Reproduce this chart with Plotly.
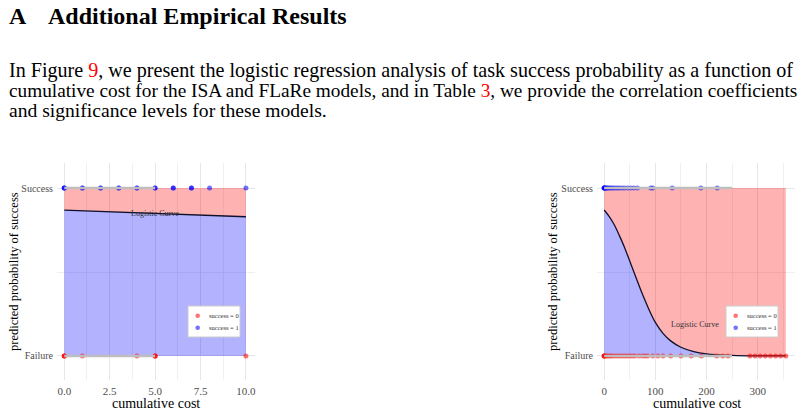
import plotly.graph_objects as go

W, H = 805, 412
def px(x): return x / W
def py(y): return 1 - y / H

SERIF = "Liberation Serif, Times New Roman, serif"

# ---------------- data ----------------
outcome_ticks = [0, 1]
outcome_labels = ["Failure", "Success"]

# ISA panel
isa_curve_cost = [0, 2.5, 5, 7.5, 10]
isa_curve_prob = [0.869, 0.859, 0.849, 0.839, 0.829]
isa_success_cost = [0, 0, 0, 1, 1, 2, 2, 3, 3, 4, 4, 5, 5, 6, 6, 7, 7, 8, 10]
isa_failure_cost = [0, 0, 0, 1, 4, 5, 5, 5, 10]
isa_range = [0, 5]
isa_xticks = [0, 2.5, 5, 7.5, 10]
isa_xticklabels = ["0.0", "2.5", "5.0", "7.5", "10.0"]

# FLaRe panel
flare_curve_cost = [0, 10, 20, 30, 40, 50, 60, 70, 80, 90, 100, 115, 130, 150,
                    175, 200, 250, 300, 355]
flare_curve_prob = [0.869, 0.83, 0.78, 0.715, 0.645, 0.565, 0.485, 0.405, 0.33,
                    0.26, 0.20, 0.135, 0.09, 0.052, 0.026, 0.013, 0.004, 0.001,
                    0.0003]
flare_success_cost = [0, 0, 0, 1, 2, 3, 5, 7, 9, 12, 15, 18, 22, 26, 30, 35, 40,
                      46, 52, 58, 65, 91, 95, 133, 189, 221]
flare_failure_cost = [0, 0, 0, 2, 5, 8, 12, 15, 20, 25, 30, 35, 40, 45, 50, 55,
                      60, 68, 75, 80, 85, 95, 105, 115, 130, 150, 170, 190, 220,
                      232, 242, 285, 295, 305, 315, 325, 335, 345, 355]
flare_range = [0, 250]
flare_xticks = [0, 100, 200, 300]
flare_xticklabels = ["0", "100", "200", "300"]

legend_labels = ["success = 0", "success = 1"]

# ---------------- figure ----------------
RED_FILL = "rgba(255,0,0,0.30)"
BLUE_FILL = "rgba(0,0,255,0.30)"
RED_PT = "rgba(255,0,0,0.55)"
BLUE_PT = "rgba(0,0,255,0.55)"
GREY_LINE = "#BEBEBE"

fig = go.Figure()

def add_panel(xa, ya, cx, cp, succ, fail, rng, shape):
    fig.add_trace(go.Scatter(x=cx, y=cp, mode="lines", line=dict(width=0, shape=shape),
                             fill="tozeroy", fillcolor=BLUE_FILL, xaxis=xa, yaxis=ya,
                             showlegend=False, hoverinfo="skip"))
    fig.add_trace(go.Scatter(x=cx, y=[1] * len(cx), mode="lines", line=dict(width=0),
                             fill="tonexty", fillcolor=RED_FILL, xaxis=xa, yaxis=ya,
                             showlegend=False, hoverinfo="skip"))
    fig.add_trace(go.Scatter(x=cx, y=cp, mode="lines",
                             line=dict(color="#10102a", width=1.3, shape=shape),
                             xaxis=xa, yaxis=ya, showlegend=False))
    fig.add_trace(go.Scatter(x=fail, y=[0] * len(fail), mode="markers",
                             marker=dict(color=RED_PT, size=5), xaxis=xa, yaxis=ya,
                             showlegend=False))
    fig.add_trace(go.Scatter(x=succ, y=[1] * len(succ), mode="markers",
                             marker=dict(color=BLUE_PT, size=5), xaxis=xa, yaxis=ya,
                             showlegend=False))
    for lvl in outcome_ticks:
        fig.add_trace(go.Scatter(x=rng, y=[lvl, lvl], mode="lines",
                                 line=dict(color=GREY_LINE, width=2.5),
                                 xaxis=xa, yaxis=ya, showlegend=False))

add_panel("x", "y", isa_curve_cost, isa_curve_prob, isa_success_cost,
          isa_failure_cost, isa_range, "linear")
add_panel("x2", "y2", flare_curve_cost, flare_curve_prob, flare_success_cost,
          flare_failure_cost, flare_range, "spline")

Y_DOMAIN = [py(380), py(163)]
YRANGE = [-0.143, 1.149]

def xaxis(domain, rng, tv, tt, minor_dtick, anchor):
    return dict(domain=domain, range=rng, anchor=anchor, tickvals=tv, ticktext=tt,
                showgrid=True, gridcolor="#E6E6E6", gridwidth=1, zeroline=False,
                showline=False, ticks="", ticklabelstandoff=3,
                tickfont=dict(family=SERIF, size=11, color="#4D4D4D"),
                minor=dict(dtick=minor_dtick, tick0=0, showgrid=True,
                           gridcolor="#F0F0F0", gridwidth=1))

def yaxis(anchor):
    return dict(domain=Y_DOMAIN, range=YRANGE, anchor=anchor, tickvals=outcome_ticks,
                ticktext=outcome_labels, showgrid=True, gridcolor="#E6E6E6",
                zeroline=False, showline=False, ticks="", ticklabelstandoff=3,
                tickfont=dict(family=SERIF, size=10, color="#4D4D4D"),
                minor=dict(tickvals=[0.5], showgrid=True, gridcolor="#F0F0F0"))

fig.update_layout(
    width=W, height=H, margin=dict(l=0, r=0, t=0, b=0),
    paper_bgcolor="white", plot_bgcolor="white", showlegend=False,
    xaxis=xaxis([px(57), px(255)], [-0.4, 10.5], isa_xticks, isa_xticklabels, 1.25, "y"),
    yaxis=yaxis("x"),
    xaxis2=xaxis([px(597), px(795)], [-14, 373], flare_xticks, flare_xticklabels, 50, "y2"),
    yaxis2=yaxis("x2"),
)

ann = []
# heading
ann.append(dict(text="<b>A</b>", x=px(7), y=py(16), xref="paper", yref="paper",
                xanchor="left", yanchor="middle", showarrow=False,
                font=dict(family=SERIF, size=24, color="black")))
ann.append(dict(text="<b>Additional Empirical Results</b>", x=px(46), y=py(16),
                xref="paper", yref="paper", xanchor="left", yanchor="middle",
                showarrow=False, font=dict(family=SERIF, size=24, color="black")))
para = [
    'In Figure <span style="color:#FF0000">9</span>, we present the logistic regression analysis of task success probability as a function of',
    'cumulative cost for the ISA and FLaRe models, and in Table <span style="color:#FF0000">3</span>, we provide the correlation coefficients',
    'and significance levels for these models.',
]
para_sizes = [20.1, 19.3, 19.6]
for i, line in enumerate(para):
    ann.append(dict(text=line, x=px(7), y=py(70 + 20 * i), xref="paper", yref="paper",
                    xanchor="left", yanchor="middle", showarrow=False,
                    font=dict(family=SERIF, size=para_sizes[i], color="black")))

# axis titles
for cx in (156, 697):
    ann.append(dict(text="cumulative cost", x=px(cx), y=py(403), xref="paper",
                    yref="paper", xanchor="center", yanchor="middle", showarrow=False,
                    font=dict(family=SERIF, size=14, color="black")))
for cx in (14, 553):
    ann.append(dict(text="predicted probability of success", x=px(cx), y=py(272),
                    xref="paper", yref="paper", xanchor="center", yanchor="middle",
                    textangle=-90, showarrow=False,
                    font=dict(family=SERIF, size=12.5, color="black")))

# Logistic curve labels
ann.append(dict(text="Logistic Curve", x=5, y=0.85, xref="x", yref="y", showarrow=False,
                xanchor="center", yanchor="middle",
                font=dict(family=SERIF, size=8, color="#333333")))
ann.append(dict(text="Logistic Curve", x=177, y=0.185, xref="x2", yref="y2",
                showarrow=False, xanchor="center", yanchor="middle",
                font=dict(family=SERIF, size=8, color="#333333")))

# legends (manual boxes)
shapes = []
for (bx0, by0) in ((188, 306), (726, 306)):
    shapes.append(dict(type="rect", xref="paper", yref="paper",
                       x0=px(bx0), x1=px(bx0 + 52), y0=py(by0 + 31), y1=py(by0),
                       fillcolor="white", line=dict(color="#CCCCCC", width=1)))
    for k, (col, lab) in enumerate(zip([RED_PT, BLUE_PT], legend_labels)):
        cy = by0 + 9.7 + 12 * k
        cxp = bx0 + 9.7
        shapes.append(dict(type="circle", xref="paper", yref="paper",
                           x0=px(cxp - 2.3), x1=px(cxp + 2.3),
                           y0=py(cy + 2.3), y1=py(cy - 2.3),
                           fillcolor=col, line=dict(width=0)))
        ann.append(dict(text=lab, x=px(bx0 + 19), y=py(cy), xref="paper", yref="paper",
                        xanchor="left", yanchor="middle", showarrow=False,
                        font=dict(family=SERIF, size=6.5, color="#333333")))

fig.update_layout(annotations=ann, shapes=shapes)
fig.write_html("out.html")
